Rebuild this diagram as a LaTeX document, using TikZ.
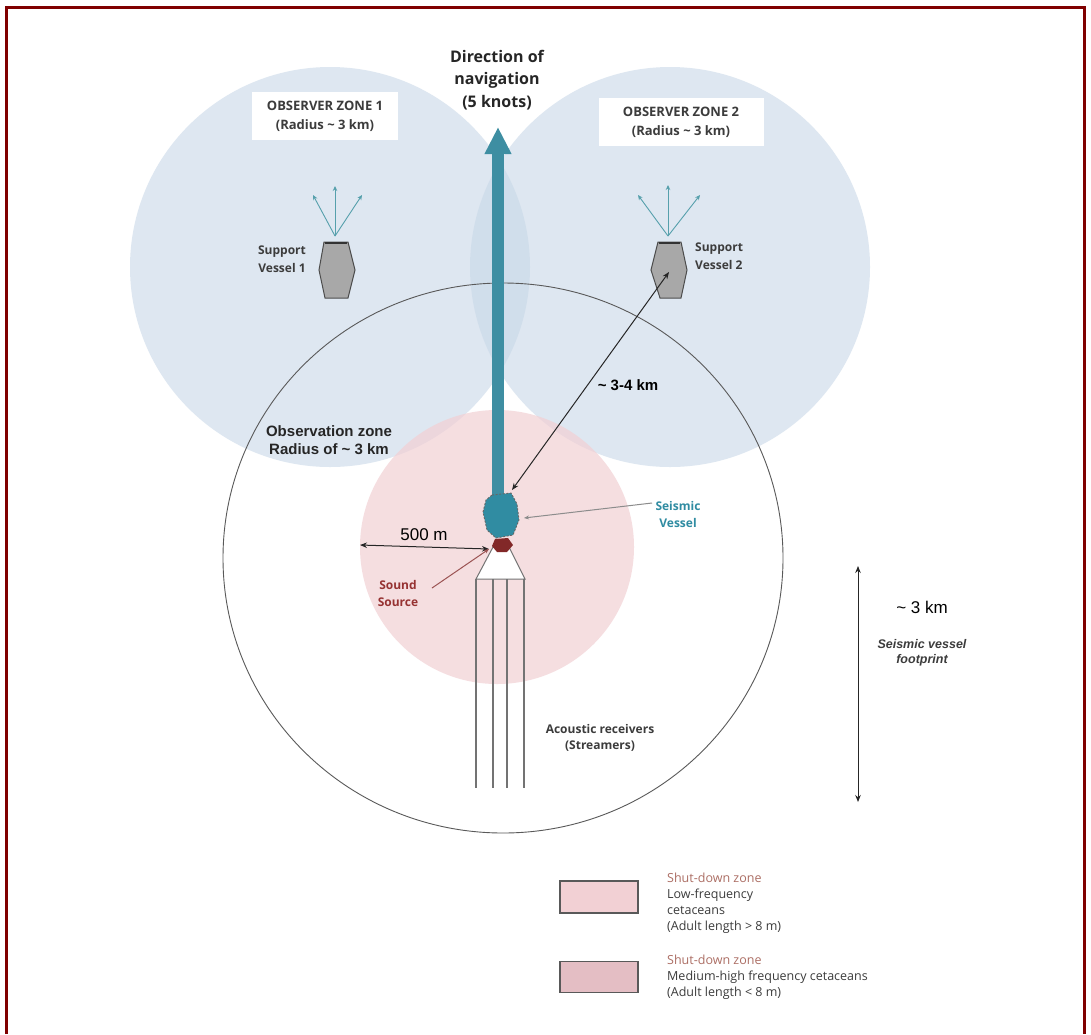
\documentclass[tikz,border=0pt]{standalone}
\usepackage{fontspec}
\setmainfont{Open Sans}
\newfontfamily\arialf{Liberation Sans}
\usetikzlibrary{arrows.meta}
\definecolor{framered}{RGB}{128,0,0}
\definecolor{zoneblue}{RGB}{200,216,232}
\definecolor{zonepink}{RGB}{242,208,212}
\definecolor{legpink2}{RGB}{228,190,196}
\definecolor{navteal}{RGB}{62,142,162}
\definecolor{thinteal}{RGB}{86,160,172}
\definecolor{seisteal}{RGB}{48,140,162}
\definecolor{srcred}{RGB}{130,40,40}
\definecolor{srclabel}{RGB}{150,50,50}
\definecolor{legtitle}{RGB}{172,110,100}
\definecolor{txtgray}{RGB}{60,60,60}
\definecolor{vesselgray}{RGB}{168,168,168}
\tikzset{
  zonefill/.style={fill=zoneblue, fill opacity=0.6},
  zonelabel/.style={fill=white, inner sep=0pt, text=txtgray, font=\bfseries\fontsize{13}{19}\selectfont, align=center},
  vlabel/.style={inner sep=0pt, text=txtgray, font=\bfseries\fontsize{12}{18}\selectfont},
  scanarrow/.style={draw=thinteal, line width=0.9pt, -{Stealth[length=5pt,width=4.5pt]}},
  dimarrow/.style={draw=black!85, line width=1pt, {Stealth[length=7pt,width=5.5pt]}-{Stealth[length=7pt,width=5.5pt]}},
  hexvessel/.style={fill=vesselgray, draw=black!70, line width=1pt},
  streamer/.style={draw=black!55, line width=1.1pt},
  legtext/.style={inner sep=0pt, align=left, text=txtgray, font=\fontsize{12.5}{16}\selectfont},
}
\begin{document}
\begin{tikzpicture}[x=1pt,y=-1pt]
\useasboundingbox (0,0) rectangle (1091,1034);
\fill[white] (0,0) rectangle (1091,1034);

% observer zones
\fill[zonefill] (330,267) circle [radius=200];
\fill[zonefill] (670,267) circle [radius=200];

% shut-down zone (500 m)
\fill[zonepink, fill opacity=0.7] (497,547) circle [radius=137];

% observation zone
\draw[black!65, line width=0.9pt] (503,558) ellipse [x radius=280, y radius=275];

% zone labels
\node[zonelabel, minimum width=146pt, minimum height=48pt] (oz1) at (325,116) {OBSERVER ZONE 1\\(Radius \textasciitilde{} 3 km)};
\node[zonelabel, minimum width=165pt, minimum height=48pt] (oz2) at (681,122) {OBSERVER ZONE 2\\(Radius \textasciitilde{} 3 km)};

% direction of navigation
\node[inner sep=0pt, align=center, text=black!85, font=\bfseries\fontsize{16}{22.5}\selectfont] (dir) at (497,80) {Direction of\\navigation\\(5 knots)};
\coordinate (navbase) at (498,510);
\coordinate (navtip) at (498,127);
\draw[navteal, line width=12pt, -{Triangle[length=27pt,width=25pt]}] (navbase) -- (navtip);

% support vessel 1
\coordinate (sv1) at (337,270);
\coordinate (sv1top) at (335,236);
\coordinate (sv1a) at (313,195);
\coordinate (sv1b) at (335,186);
\coordinate (sv1c) at (362,195);
\filldraw[hexvessel] (324,242) -- (348,242) -- (355,270) -- (348,298) -- (325,298) -- (319,270) -- cycle;
\draw[black!80, line width=2pt] (325,243) -- (347,243);
\draw[scanarrow] (sv1top) -- (sv1a);
\draw[scanarrow] (sv1top) -- (sv1b);
\draw[scanarrow] (sv1top) -- (sv1c);
\node[vlabel, align=center] (sv1lab) at (282,259) {Support\\Vessel 1};

% support vessel 2
\coordinate (sv2) at (669,272);
\coordinate (sv2top) at (668,236);
\coordinate (sv2a) at (638,195);
\coordinate (sv2b) at (668,185);
\coordinate (sv2c) at (700,195);
\filldraw[hexvessel] (658,242) -- (681,242) -- (687,270) -- (681,298) -- (660,298) -- (651,270) -- cycle;
\draw[black!80, line width=2pt] (659,243) -- (680,243);
\draw[scanarrow] (sv2top) -- (sv2a);
\draw[scanarrow] (sv2top) -- (sv2b);
\draw[scanarrow] (sv2top) -- (sv2c);
\node[vlabel, align=left, anchor=west] (sv2lab) at (695,256) {Support\\Vessel 2};

% observation zone label
\node[inner sep=0pt, align=center, text=black!85, font=\arialf\bfseries\fontsize{15}{18}\selectfont] (obslab) at (329,440) {Observation zone\\Radius of \textasciitilde{} 3 km};

% streamers
\coordinate (trtop) at (501,547);
\filldraw[fill=white, draw=black!55, line width=1pt] (493,547) -- (509,547) -- (525,579) -- (476,579) -- cycle;
\coordinate (st1) at (476,788);
\coordinate (st2) at (493,788);
\coordinate (st3) at (507,788);
\coordinate (st4) at (524,788);
\draw[streamer] (476,579) -- (st1);
\draw[streamer] (493,579) -- (st2);
\draw[streamer] (507,579) -- (st3);
\draw[streamer] (524,579) -- (st4);

% seismic vessel
\coordinate (seis) at (500,515);
\coordinate (seistop) at (512,490);
\coordinate (seisright) at (524,518);
\filldraw[fill=seisteal, draw=black!60, line width=0.9pt, dash pattern=on 2pt off 1.6pt]
  (492,495) -- (511,493) -- (517,504) -- (519,520) -- (513,535) -- (496,538) -- (487,530) -- (483,512) -- (486,500) -- cycle;

% sound source
\coordinate (src) at (502,545);
\coordinate (srcleft) at (489,549);
\fill[srcred] (495,539) -- (508,538) -- (513,545) -- (507,552) -- (497,552) -- (492,546) -- cycle;

% 3-4 km
\draw[dimarrow] (seistop) -- (sv2);
\node[inner sep=0pt, font=\arialf\bfseries\fontsize{15}{18}\selectfont] (d34) at (628,385) {\textasciitilde{} 3-4 km};

% 500 m
\coordinate (r500) at (360,545);
\draw[dimarrow] (r500) -- (srcleft);
\node[inner sep=0pt, font=\arialf\fontsize{17}{20}\selectfont] (d500) at (424,535) {500 m};

% seismic vessel label
\node[inner sep=0pt, align=center, text=seisteal, font=\bfseries\fontsize{12}{17}\selectfont] (seislab) at (678,514) {Seismic\\Vessel};
\coordinate (seislabin) at (652,503);
\draw[draw=black!45, line width=1pt, -{Stealth[length=5pt,width=4pt]}] (seislabin) -- (seisright);

% sound source label
\node[inner sep=0pt, align=center, text=srclabel, font=\bfseries\fontsize{12}{17}\selectfont] (srclab) at (398,593) {Sound\\Source};
\coordinate (srclabin) at (432,588);
\draw[draw=srcred!80, line width=1pt, -{Stealth[length=5pt,width=4pt]}] (srclabin) -- (srcleft);

% streamers label
\node[inner sep=0pt, align=center, text=txtgray, font=\bfseries\fontsize{12}{16}\selectfont] (stlab) at (600,738) {Acoustic receivers\\(Streamers)};

% footprint
\coordinate (fptop) at (858,566);
\coordinate (fpbot) at (858,802);
\draw[dimarrow] (fptop) -- (fpbot);
\node[inner sep=0pt, font=\arialf\fontsize{17}{20}\selectfont] (d3) at (922,607) {\textasciitilde{} 3 km};
\node[inner sep=0pt, align=center, text=txtgray, font=\arialf\bfseries\itshape\fontsize{12.5}{15}\selectfont] (fplab) at (922,653) {Seismic vessel\\footprint};

% legend
\node[fill=zonepink, draw=black!65, line width=1.2pt, minimum width=78pt, minimum height=32pt, inner sep=0pt] (leg1) at (599,897) {};
\node[fill=legpink2, draw=black!65, line width=1.2pt, minimum width=78pt, minimum height=31pt, inner sep=0pt] (leg2) at (599,977) {};
\node[legtext, anchor=west] (leg1t) at (667,903) {\textcolor{legtitle}{Shut-down zone}\\Low-frequency\\cetaceans\\ (Adult length > 8 m)};
\node[legtext, anchor=west] (leg2t) at (667,977) {\textcolor{legtitle}{Shut-down zone}\\Medium-high frequency cetaceans\\(Adult length < 8 m)};

% frame
\draw[framered, line width=2.6pt] (6.2,1034) -- (6.2,7.4) -- (1084.5,7.4) -- (1084.5,1034);
\end{tikzpicture}
\end{document}
